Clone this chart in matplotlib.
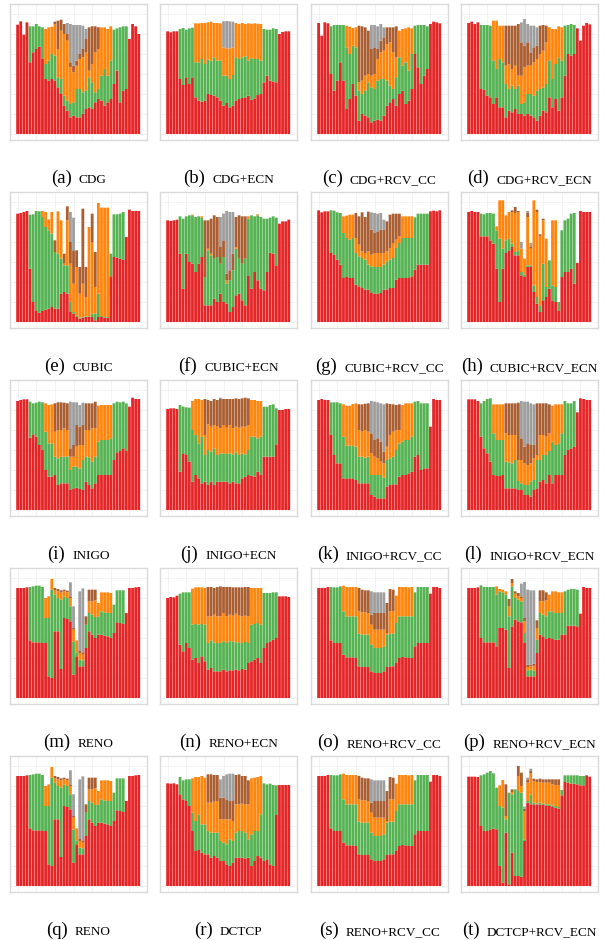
import matplotlib
matplotlib.use("Agg")
import matplotlib.pyplot as plt
import numpy as np
from matplotlib.ticker import MultipleLocator

N_BARS = 40


def span(start, values):
    """Place the values of a layer that only exists on some bars; 0 = absent."""
    row = [0] * N_BARS
    row[start:start + len(values)] = values
    return row


# stack tops per layer (red, green, orange, brown, gray), one value per bar
cdg_red = [328, 338, 298, 335, 215, 245, 255, 262, 225, 165, 160, 165, 160, 140, 120, 85, 70, 50, 55, 50,
           50, 60, 75, 80, 75, 95, 105, 100, 85, 95, 105, 150, 190, 95, 130, 135, 285, 330, 323, 300]
cdg_green = span(4, [323, 323, 330, 323, 320, 210, 220, 240, 235, 170, 165, 115, 100, 90, 95, 135, 135, 125, 130,
                     170, 155, 125, 135, 175, 195, 175, 220, 313, 317, 320, 323, 323])
cdg_orange = span(9, [315, 320, 322, 330, 255, 310, 300, 280, 200, 185, 205, 225, 230, 245, 190, 210, 245, 255,
                      320, 320, 315, 323])
cdg_brown = span(12, [337, 340, 343, 330, 300, 215, 205, 220, 240, 255, 285, 320, 323, 323, 320])
cdg_gray = span(16, [333, 330, 327, 327, 327, 325, 315])

cdg_ecn_red = [308, 305, 308, 308, 165, 147, 170, 150, 170, 110, 100, 97, 100, 120, 117, 115, 110, 100, 85, 93,
               80, 85, 100, 105, 108, 110, 115, 103, 107, 117, 120, 155, 175, 160, 157, 155, 300, 306, 308, 308]
cdg_ecn_green = span(4, [315, 318, 313, 317, 319, 215, 215, 225, 210, 223, 220, 230, 220, 220, 175, 175, 165, 177,
                         230, 225, 230, 233, 220, 227, 225, 225, 220, 315, 313, 313, 317, 315])
cdg_ecn_orange = span(9, [332, 332, 333, 333, 335, 337, 333, 333, 332, 260, 257, 257, 260, 333, 330, 333, 330, 332,
                          331, 332, 331, 330])
cdg_ecn_brown = span(0, [])
cdg_ecn_gray = span(18, [338, 339, 338, 337])

cdg_cc_red = [333, 295, 335, 332, 180, 130, 160, 215, 160, 75, 105, 150, 115, 40, 60, 55, 50, 35, 40, 43,
              40, 55, 85, 95, 105, 85, 120, 130, 90, 100, 135, 240, 200, 150, 175, 195, 330, 337, 335, 332]
cdg_cc_green = span(4, [323, 327, 327, 327, 327, 260, 240, 265, 260, 130, 120, 130, 155, 140, 135, 160, 165, 165,
                        160, 145, 135, 170, 230, 205, 215, 190, 240, 325, 327, 327, 327, 323])
cdg_cc_orange = span(9, [325, 322, 318, 320, 155, 160, 175, 180, 175, 180, 225, 245, 250, 270, 275, 245, 230, 310,
                         315, 317, 320, 317])
cdg_cc_brown = span(13, [325, 323, 320, 310, 255, 260, 255, 280, 290, 320, 320, 320, 323])
cdg_cc_gray = span(17, [327, 327, 323, 330, 320])

cdg_recn_red = [333, 337, 330, 335, 135, 133, 115, 110, 90, 110, 80, 80, 50, 70, 65, 75, 60, 60, 55, 60,
                55, 50, 40, 55, 70, 65, 110, 80, 105, 70, 110, 175, 240, 235, 240, 317, 280, 325, 333, 329]
cdg_recn_green = span(4, [327, 327, 327, 325, 220, 195, 225, 215, 150, 135, 145, 135, 145, 90, 95, 120, 120, 115,
                          130, 135, 140, 150, 220, 165, 210, 230, 220, 325, 327, 330, 327])
cdg_recn_orange = span(8, [340, 340, 325, 325, 205, 210, 195, 205, 175, 175, 200, 205, 205, 215, 225, 240, 250,
                           275, 320, 315, 315, 323, 320])
cdg_recn_brown = span(12, [325, 325, 325, 325, 330, 275, 265, 275, 245, 260, 265, 325, 327, 325])
cdg_recn_gray = span(17, [335, 345, 330, 325, 325, 320])

cubic_red = [325, 327, 330, 333, 160, 60, 35, 28, 33, 37, 40, 45, 40, 40, 85, 90, 85, 30, 25, 15,
             10, 13, 15, 15, 15, 5, 15, 15, 13, 13, 137, 195, 193, 190, 187, 255, 337, 333, 333, 333]
cubic_green = span(4, [322, 323, 333, 332, 315, 285, 275, 265, 210, 205, 190, 170, 170, 60, 30, 20, 13, 15, 17,
                       17, 25, 25, 85, 18, 15, 15, 205, 323, 323, 325, 330])
cubic_orange = span(8, [333, 330, 308, 330, 0, 332, 305, 175, 305, 175, 115, 165, 85, 115, 75, 285, 240, 105,
                        357, 343, 343, 343])
cubic_brown = span(12, [245, 0, 0, 205, 347, 240, 215, 215, 165, 340, 165, 0, 325, 210])
cubic_gray = span(17, [330, 313])

cubic_ecn_red = [305, 303, 305, 307, 205, 100, 205, 180, 175, 150, 175, 195, 50, 50, 50, 70, 60, 85, 60, 55,
                 30, 45, 80, 85, 65, 50, 140, 100, 150, 125, 100, 95, 150, 208, 205, 170, 295, 302, 302, 307]
cubic_ecn_green = span(4, [317, 310, 317, 320, 320, 315, 317, 313, 135, 215, 200, 190, 195, 175, 195, 115, 125,
                           155, 220, 190, 175, 190, 310, 320, 317, 320, 315, 310, 310, 313, 317, 313])
cubic_ecn_orange = span(8, [322, 0, 0, 317, 0, 220, 205, 0, 0, 0, 0, 125, 0, 0, 225, 190, 0, 0, 317, 0, 0, 323])
cubic_ecn_brown = span(12, [305, 305, 310, 320, 315, 225, 245, 145, 155, 205, 315, 320, 317, 317])
cubic_ecn_gray = span(17, [315, 325, 333, 330, 330])

cubic_cc_red = [335, 329, 332, 332, 207, 202, 187, 172, 132, 137, 132, 132, 112, 107, 102, 97, 97, 87, 85, 85,
                87, 97, 97, 102, 102, 127, 132, 132, 132, 132, 137, 157, 172, 172, 172, 172, 332, 334, 332, 335]
cubic_cc_green = span(4, [335, 334, 329, 327, 267, 252, 247, 252, 207, 197, 192, 187, 172, 167, 165, 165, 165,
                          172, 182, 187, 192, 222, 237, 252, 252, 252, 252, 314, 325, 325, 325, 325])
cubic_cc_orange = span(8, [317, 319, 322, 322, 252, 232, 212, 207, 212, 202, 207, 207, 207, 207, 212, 222, 237,
                           247, 257, 317, 317, 317, 317])
cubic_cc_brown = span(12, [327, 317, 329, 315, 331, 277, 267, 272, 277, 277, 302, 322, 325, 325, 325])
cubic_cc_gray = span(17, [329, 327, 325, 327, 307])

cubic_recn_red = [330, 333, 330, 330, 257, 257, 257, 245, 235, 160, 60, 160, 207, 215, 225, 200, 200, 140, 135,
                  165, 165, 90, 55, 30, 65, 75, 100, 65, 60, 33, 135, 150, 150, 160, 115, 177, 333, 330, 330, 330]
cubic_recn_green = span(4, [325, 323, 327, 327, 325, 275, 250, 220, 245, 250, 235, 210, 215, 150, 143, 170, 170,
                            110, 75, 50, 175, 105, 185, 110, 105, 60, 275, 305, 310, 325, 327])
cubic_recn_orange = span(9, [287, 365, 365, 320, 330, 330, 327, 330, 220, 190, 315, 220, 365, 330, 257, 305, 250,
                             0, 305, 305])
cubic_recn_brown = span(14, [335, 345, 333, 0, 0, 327, 227, 0, 337, 263, 310])
cubic_recn_gray = span(17, [240, 0, 333, 237])

inigo_red = [327, 330, 332, 332, 217, 227, 220, 195, 180, 120, 100, 100, 105, 75, 80, 80, 80, 60, 65, 67,
             63, 60, 85, 75, 65, 80, 105, 105, 105, 105, 105, 150, 173, 177, 185, 177, 310, 337, 333, 333]
inigo_green = span(4, [325, 320, 322, 325, 323, 235, 200, 200, 160, 155, 160, 160, 160, 120, 130, 130, 125, 150,
                       160, 157, 145, 160, 205, 210, 210, 210, 215, 320, 325, 323, 325, 320])
inigo_orange = span(9, [320, 315, 317, 235, 240, 240, 245, 240, 160, 160, 190, 195, 195, 240, 240, 245, 245, 313,
                        315, 315, 315, 315])
inigo_brown = span(12, [320, 323, 323, 322, 320, 185, 195, 255, 250, 255, 320, 320, 320, 325])
inigo_gray = span(17, [325, 323, 323, 315, 322])

inigo_ecn_red = [303, 305, 305, 303, 115, 170, 165, 145, 85, 105, 95, 80, 85, 75, 85, 75, 85, 85, 85, 85,
                 80, 85, 80, 80, 95, 100, 105, 103, 100, 115, 105, 160, 160, 160, 160, 197, 300, 300, 303, 303]
inigo_ecn_green = span(4, [315, 310, 308, 307, 240, 225, 200, 220, 165, 180, 175, 185, 165, 170, 170, 168, 170,
                           167, 173, 165, 170, 167, 180, 220, 220, 215, 220, 310, 310, 315, 317, 305])
inigo_ecn_orange = span(8, [327, 333, 333, 330, 225, 257, 250, 255, 250, 245, 255, 247, 255, 245, 250, 247, 250,
                            250, 255, 330, 330, 327, 327])
inigo_ecn_brown = span(12, [333, 330, 327, 333, 330, 333, 333, 333, 333, 333, 335, 333, 335, 337, 335])
inigo_ecn_gray = span(17, [337])

inigo_cc_red = [330, 333, 330, 330, 225, 165, 140, 140, 95, 93, 95, 93, 90, 80, 80, 80, 80, 45, 40, 35,
                35, 35, 70, 75, 77, 77, 100, 105, 105, 110, 115, 160, 165, 120, 125, 125, 250, 333, 330, 330]
inigo_cc_green = span(4, [323, 323, 323, 320, 220, 193, 193, 193, 190, 160, 160, 157, 160, 105, 105, 105, 105, 97,
                          150, 155, 160, 180, 200, 205, 210, 210, 220, 325, 327, 320, 320, 320])
inigo_cc_orange = span(8, [317, 313, 313, 318, 320, 240, 235, 240, 235, 170, 160, 155, 145, 140, 190, 225, 235,
                           240, 240, 315, 320, 320, 320])
inigo_cc_brown = span(13, [317, 317, 319, 320, 230, 210, 215, 205, 175, 320, 318, 317, 315, 317])
inigo_cc_gray = span(17, [327, 325, 323, 320, 317])

inigo_recn_red = [332, 332, 332, 327, 220, 185, 170, 145, 105, 102, 102, 105, 65, 65, 65, 65, 60, 60, 45, 45,
                  40, 60, 65, 85, 90, 80, 105, 80, 105, 105, 105, 165, 180, 185, 190, 293, 335, 333, 330, 330]
inigo_recn_green = span(4, [320, 327, 333, 335, 230, 210, 210, 210, 145, 143, 140, 150, 87, 80, 75, 75, 85, 90,
                            150, 150, 165, 165, 177, 205, 195, 200, 230, 327, 320, 320, 327])
inigo_recn_orange = span(8, [317, 317, 317, 317, 230, 225, 225, 225, 150, 150, 140, 135, 140, 155, 165, 225, 225,
                             220, 230, 313, 317, 317, 317])
inigo_recn_brown = span(12, [320, 320, 320, 320, 322, 215, 190, 200, 195, 195, 320, 320, 320, 320, 317])
inigo_recn_gray = span(17, [327, 325, 325, 320, 317])

reno_red = [330, 330, 330, 332, 173, 167, 167, 167, 165, 165, 65, 60, 200, 200, 87, 240, 237, 230, 70, 125,
            95, 95, 150, 200, 190, 180, 190, 190, 187, 185, 180, 195, 227, 225, 222, 255, 330, 330, 332, 333]
reno_green = span(4, [333, 335, 337, 337, 333, 240, 240, 325, 310, 300, 295, 305, 300, 275, 170, 137, 115, 113,
                      220, 255, 250, 243, 245, 260, 257, 255, 255, 280, 323, 323, 323])
reno_orange = span(9, [300, 305, 357, 323, 320, 317, 320, 317, 300, 205, 173, 135, 130, 0, 290, 290, 293, 285,
                       317, 317, 317, 315])
reno_brown = span(12, [330, 327, 323, 325, 322, 305, 210, 0, 143, 137, 245, 325, 325, 325])
reno_gray = span(17, [347, 275, 0, 320, 329])

reno_ecn_red = [300, 303, 302, 307, 160, 140, 165, 150, 115, 120, 105, 125, 110, 85, 90, 80, 80, 80, 85, 80,
                83, 83, 85, 83, 87, 85, 105, 110, 115, 120, 105, 150, 165, 170, 175, 180, 305, 305, 305, 303]
reno_ecn_green = span(4, [313, 317, 317, 317, 220, 222, 220, 222, 220, 165, 173, 167, 165, 165, 170, 165, 170,
                          170, 167, 167, 165, 168, 165, 220, 222, 225, 220, 315, 315, 315, 317, 317])
reno_ecn_orange = span(8, [328, 332, 332, 332, 330, 245, 245, 250, 245, 245, 255, 245, 250, 247, 253, 247, 245,
                           247, 245, 330, 330, 330, 330])
reno_ecn_brown = span(13, [333, 333, 330, 333, 335, 333, 333, 333, 332, 332, 332, 332, 333, 333])
reno_ecn_gray = span(0, [])

reno_cc_red = [330, 330, 330, 333, 173, 165, 165, 165, 130, 122, 122, 122, 120, 95, 93, 93, 93, 80, 75, 75,
               75, 80, 93, 95, 95, 107, 120, 123, 122, 120, 120, 155, 165, 165, 165, 165, 313, 333, 333, 330]
reno_cc_green = span(4, [333, 332, 332, 335, 260, 245, 245, 245, 245, 193, 190, 190, 190, 160, 150, 150, 150, 155,
                         190, 193, 193, 225, 245, 245, 245, 245, 245, 317, 333, 333, 333, 333])
reno_cc_orange = span(8, [337, 333, 333, 333, 333, 260, 257, 257, 255, 220, 205, 205, 205, 205, 195, 260, 260,
                          307, 333, 333, 333, 332, 333])
reno_cc_brown = span(13, [330, 325, 323, 323, 250, 255, 255, 255, 255, 285, 327, 325])
reno_cc_gray = span(17, [320, 317, 317, 317, 317])

reno_recn_red = [330, 330, 330, 332, 180, 167, 167, 167, 167, 155, 210, 210, 205, 90, 215, 235, 230, 227, 165,
                 65, 65, 65, 135, 190, 183, 177, 180, 177, 175, 175, 190, 190, 217, 217, 217, 215, 253, 333, 330,
                 330]
reno_recn_green = span(4, [338, 333, 333, 333, 333, 310, 320, 317, 310, 245, 335, 300, 295, 290, 195, 83, 85, 83,
                           175, 255, 250, 245, 260, 260, 255, 255, 255, 320, 325, 327, 327, 325])
reno_recn_orange = span(9, [335, 327, 325, 320, 275, 345, 313, 305, 300, 230, 93, 95, 95, 210, 290, 290, 293,
                            310, 320, 320, 317, 317])
reno_recn_brown = span(13, [297, 357, 320, 315, 305, 240, 100, 100, 103, 233, 323, 323, 317])
reno_recn_gray = span(17, [343, 348, 325, 323, 323])

dctcp_red = [308, 307, 308, 305, 275, 260, 255, 240, 165, 105, 110, 100, 95, 95, 85, 90, 85, 75, 75, 65,
             60, 70, 85, 85, 85, 83, 85, 60, 75, 90, 85, 75, 80, 65, 60, 213, 303, 303, 303, 303]
dctcp_green = span(4, [327, 317, 320, 320, 220, 195, 215, 185, 185, 165, 160, 160, 160, 135, 130, 125, 140, 135,
                       160, 165, 165, 160, 140, 155, 165, 165, 215, 308, 305, 307, 303, 302])
dctcp_orange = span(8, [323, 327, 327, 330, 325, 250, 250, 253, 255, 200, 200, 200, 200, 195, 245, 245, 247, 245,
                        245, 323, 325, 327, 330])
dctcp_brown = span(13, [335, 335, 333, 333, 265, 265, 260, 255, 257, 333, 335, 330, 330, 317])
dctcp_gray = span(17, [320, 330, 335, 337, 337])

dctcp_recn_red = [328, 328, 328, 327, 180, 165, 165, 170, 172, 170, 60, 10, 160, 5, 100, 30, 30, 28, 135, 250,
                  245, 245, 245, 245, 243, 242, 240, 237, 235, 232, 272, 312, 310, 307, 307, 305, 302, 302, 332,
                  328]
dctcp_recn_green = span(4, [332, 335, 340, 345, 338, 295, 240, 235, 200, 280, 275, 290, 285, 280, 140, 255, 275,
                            250, 248, 250, 247, 245, 245, 242, 240, 237, 288, 332, 332, 332, 332, 332, 330, 330])
dctcp_recn_orange = span(10, [302, 318, 210, 0, 282, 0, 330, 300, 225, 310, 338, 315, 312, 312, 310, 310, 310,
                              305, 303, 303])
dctcp_recn_brown = span(12, [305, 0, 290, 0, 360, 340, 232, 320, 345, 322, 320, 322, 320, 320, 320, 320, 320,
                             320])
dctcp_recn_gray = span(18, [238, 325, 352])

PANELS = [
    ("a", "CDG", (cdg_red, cdg_green, cdg_orange, cdg_brown, cdg_gray)),
    ("b", "CDG+ECN", (cdg_ecn_red, cdg_ecn_green, cdg_ecn_orange, cdg_ecn_brown, cdg_ecn_gray)),
    ("c", "CDG+RCV_CC", (cdg_cc_red, cdg_cc_green, cdg_cc_orange, cdg_cc_brown, cdg_cc_gray)),
    ("d", "CDG+RCV_ECN", (cdg_recn_red, cdg_recn_green, cdg_recn_orange, cdg_recn_brown, cdg_recn_gray)),
    ("e", "CUBIC", (cubic_red, cubic_green, cubic_orange, cubic_brown, cubic_gray)),
    ("f", "CUBIC+ECN", (cubic_ecn_red, cubic_ecn_green, cubic_ecn_orange, cubic_ecn_brown, cubic_ecn_gray)),
    ("g", "CUBIC+RCV_CC", (cubic_cc_red, cubic_cc_green, cubic_cc_orange, cubic_cc_brown, cubic_cc_gray)),
    ("h", "CUBIC+RCV_ECN", (cubic_recn_red, cubic_recn_green, cubic_recn_orange, cubic_recn_brown,
                            cubic_recn_gray)),
    ("i", "INIGO", (inigo_red, inigo_green, inigo_orange, inigo_brown, inigo_gray)),
    ("j", "INIGO+ECN", (inigo_ecn_red, inigo_ecn_green, inigo_ecn_orange, inigo_ecn_brown, inigo_ecn_gray)),
    ("k", "INIGO+RCV_CC", (inigo_cc_red, inigo_cc_green, inigo_cc_orange, inigo_cc_brown, inigo_cc_gray)),
    ("l", "INIGO+RCV_ECN", (inigo_recn_red, inigo_recn_green, inigo_recn_orange, inigo_recn_brown,
                            inigo_recn_gray)),
    ("m", "RENO", (reno_red, reno_green, reno_orange, reno_brown, reno_gray)),
    ("n", "RENO+ECN", (reno_ecn_red, reno_ecn_green, reno_ecn_orange, reno_ecn_brown, reno_ecn_gray)),
    ("o", "RENO+RCV_CC", (reno_cc_red, reno_cc_green, reno_cc_orange, reno_cc_brown, reno_cc_gray)),
    ("p", "RENO+RCV_ECN", (reno_recn_red, reno_recn_green, reno_recn_orange, reno_recn_brown, reno_recn_gray)),
    ("q", "RENO", (reno_red, reno_green, reno_orange, reno_brown, reno_gray)),
    ("r", "DCTCP", (dctcp_red, dctcp_green, dctcp_orange, dctcp_brown, dctcp_gray)),
    ("s", "RENO+RCV_CC", (reno_cc_red, reno_cc_green, reno_cc_orange, reno_cc_brown, reno_cc_gray)),
    ("t", "DCTCP+RCV_ECN", (dctcp_recn_red, dctcp_recn_green, dctcp_recn_orange, dctcp_recn_brown,
                            dctcp_recn_gray)),
]

COLORS = ["#e41a1c", "#4daf4a", "#ff7f00", "#a65628", "#999999"]

W, H = 606, 940
COL_X = [10, 160, 311, 461]
ROW_Y = [4, 192, 380, 568, 756]
PANEL_W, PANEL_H = 137, 136
CAPTION_DROP = 179  # baseline of caption below panel top, in pixels
SERIF = ["Liberation Serif", "DejaVu Serif"]


def main() -> None:
    fig = plt.figure(figsize=(W / 100, H / 100), dpi=100)
    x = np.arange(N_BARS)
    axes = []

    for k, (letter, name, layers) in enumerate(PANELS):
        row, col = divmod(k, 4)
        ax = fig.add_axes([
            COL_X[col] / W,
            1 - (ROW_Y[row] + PANEL_H) / H,
            PANEL_W / W,
            PANEL_H / H,
        ])
        top = np.zeros(N_BARS)
        for level, color in zip(layers, COLORS):
            level = np.asarray(level, dtype=float)
            new_top = np.where(level > 0, np.maximum(level, top), top)
            ax.bar(x, new_top - top, bottom=top, width=0.9, color=color, linewidth=0,
                   snap=False, alpha=0.95)
            top = new_top

        ax.set_xlim(-2.45, 41.65)
        ax.set_ylim(-18, 390)
        ax.xaxis.set_major_locator(MultipleLocator(6))
        ax.yaxis.set_major_locator(MultipleLocator(60))
        ax.grid(color="#f1f1f1", linewidth=0.6)
        ax.set_axisbelow(True)
        ax.tick_params(length=0, labelbottom=False, labelleft=False)
        for spine in ax.spines.values():
            spine.set_color("#dadada")
            spine.set_linewidth(1.0)
        axes.append((ax, row, col, letter, name))

    fig.canvas.draw()
    renderer = fig.canvas.get_renderer()
    gap = 7.0
    for ax, row, col, letter, name in axes:
        center = COL_X[col] + PANEL_W / 2
        baseline = 1 - (ROW_Y[row] + CAPTION_DROP) / H
        label = fig.text(0, baseline, f"({letter})", fontsize=13.5, family=SERIF, va="baseline")
        title = fig.text(0, baseline, name, fontsize=9.5, family=SERIF, va="baseline")
        w1 = label.get_window_extent(renderer).width
        w2 = title.get_window_extent(renderer).width
        start = center - (w1 + gap + w2) / 2
        label.set_x(start / W)
        title.set_x((start + w1 + gap) / W)

    fig.savefig("out.png", dpi=100)
    plt.close(fig)


if __name__ == "__main__":
    main()
